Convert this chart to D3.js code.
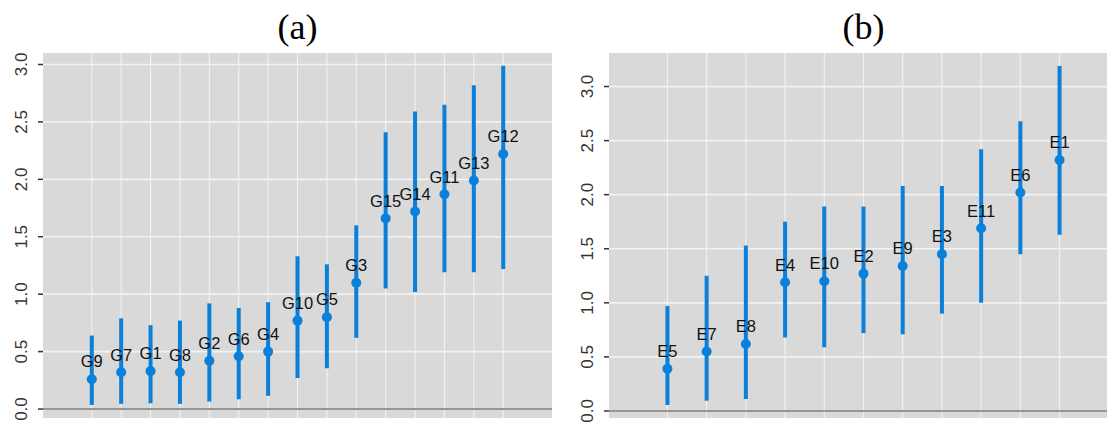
<!DOCTYPE html>
<html>
<head>
<meta charset="utf-8">
<script src="https://cdn.jsdelivr.net/npm/d3@7/dist/d3.min.js"></script>
<style>
  html, body { margin: 0; padding: 0; background: #fff; }
  svg { display: block; }
</style>
</head>
<body>
<svg id="chart" width="1107" height="423"></svg>
<script>
// Panel (a): G groups, ordered by estimate
const groupsA = ["G9","G7","G1","G8","G2","G6","G4","G10","G5","G3","G15","G14","G11","G13","G12"];
const estA    = [0.26, 0.32, 0.33, 0.32, 0.42, 0.46, 0.50, 0.77, 0.80, 1.10, 1.66, 1.72, 1.87, 1.99, 2.22];
const lowA    = [0.035,0.045,0.05, 0.045,0.065,0.085,0.115,0.27, 0.355,0.62, 1.05, 1.02, 1.19, 1.19, 1.22];
const highA   = [0.64, 0.79, 0.73, 0.77, 0.92, 0.88, 0.93, 1.33, 1.26, 1.60, 2.41, 2.59, 2.65, 2.82, 2.99];

// Panel (b): E groups, ordered by estimate
const groupsB = ["E5","E7","E8","E4","E10","E2","E9","E3","E11","E6","E1"];
const estB    = [0.39, 0.55, 0.62, 1.19, 1.20, 1.27, 1.34, 1.45, 1.69, 2.02, 2.32];
const lowB    = [0.055,0.095,0.11, 0.68, 0.59, 0.72, 0.71, 0.90, 1.00, 1.45, 1.63];
const highB   = [0.97, 1.25, 1.53, 1.75, 1.89, 1.89, 2.08, 2.08, 2.42, 2.68, 3.19];

const yTicks = [0, 0.5, 1.0, 1.5, 2.0, 2.5, 3.0];

const svg = d3.select("#chart");
const blue = "#0B80DA";

function drawPanel(opts) {
  const { title, groups, est, low, high, x0, x1, yDomain, clipRight } = opts;
  const top = 53, bottom = 418;

  const x = d3.scalePoint().domain(groups).range([x0, x1]).padding(opts.pad);
  const y = d3.scaleLinear().domain(yDomain).range([bottom, top]);

  const rows = groups.map((g, i) => ({ g, est: est[i], low: low[i], high: high[i] }));

  const clipId = "clip-" + title.replace(/\W/g, "");
  svg.append("clipPath").attr("id", clipId)
    .append("rect").attr("x", x0).attr("y", top)
    .attr("width", Math.min(x1, clipRight) - x0).attr("height", bottom - top);

  const g = svg.append("g");
  const plot = g.append("g").attr("clip-path", `url(#${clipId})`);

  // panel background
  plot.append("rect").attr("x", x0).attr("y", top)
    .attr("width", x1 - x0).attr("height", bottom - top).attr("fill", "#D9D9D9");

  // horizontal grid
  plot.selectAll(".hg").data(yTicks).join("line")
    .attr("x1", x0).attr("x2", x1)
    .attr("y1", d => y(d)).attr("y2", d => y(d))
    .attr("stroke", "#F2F2F2").attr("stroke-width", 1.7);

  // vertical grid at each group
  plot.selectAll(".vg").data(groups).join("line")
    .attr("x1", d => x(d)).attr("x2", d => x(d))
    .attr("y1", top).attr("y2", bottom)
    .attr("stroke", "#F2F2F2").attr("stroke-width", 1.1);

  // reference line at zero
  plot.append("line")
    .attr("x1", x0).attr("x2", x1)
    .attr("y1", y(0)).attr("y2", y(0))
    .attr("stroke", "#7A7A7A").attr("stroke-width", 1.6);

  // interval bars
  plot.selectAll(".bar").data(rows).join("line")
    .attr("x1", d => x(d.g)).attr("x2", d => x(d.g))
    .attr("y1", d => y(d.low)).attr("y2", d => y(d.high))
    .attr("stroke", blue).attr("stroke-width", 4);

  // point estimates
  plot.selectAll(".pt").data(rows).join("circle")
    .attr("cx", d => x(d.g)).attr("cy", d => y(d.est)).attr("r", 5)
    .attr("fill", blue);

  // group labels
  plot.selectAll(".lab").data(rows).join("text")
    .attr("x", d => x(d.g)).attr("y", d => y(d.est) - 11.7)
    .attr("text-anchor", "middle")
    .attr("font-family", "Liberation Sans, Arial, sans-serif")
    .attr("font-size", 16.5).attr("fill", "#111")
    .text(d => d.g);

  // y axis: ticks and rotated labels
  const ax = g.append("g");
  ax.selectAll(".tk").data(yTicks).join("line")
    .attr("x1", x0 - 5).attr("x2", x0)
    .attr("y1", d => y(d)).attr("y2", d => y(d))
    .attr("stroke", "#333").attr("stroke-width", 1.5);
  ax.selectAll(".tl").data(yTicks).join("text")
    .attr("transform", d => `translate(${x0 - 16},${y(d)}) rotate(-90)`)
    .attr("text-anchor", "middle")
    .attr("font-family", "Liberation Sans, Arial, sans-serif")
    .attr("font-size", 17).attr("fill", "#333")
    .text(d => d3.format(".1f")(d));

  // panel title
  g.append("text")
    .attr("x", (x0 + x1) / 2).attr("y", 38.5)
    .attr("text-anchor", "middle")
    .attr("font-family", "Liberation Serif, Times New Roman, serif")
    .attr("font-size", 36).attr("fill", "#000")
    .text(title);
}

drawPanel({ title: "(a)", groups: groupsA, est: estA, low: lowA, high: highA,
  x0: 43, x1: 552, pad: 1.66, yDomain: [-0.078, 3.10], clipRight: 1107 });
drawPanel({ title: "(b)", groups: groupsB, est: estB, low: lowB, high: highB,
  x0: 609, x1: 1118, pad: 1.49, yDomain: [-0.065, 3.31], clipRight: 1107 });
</script>
</body>
</html>
